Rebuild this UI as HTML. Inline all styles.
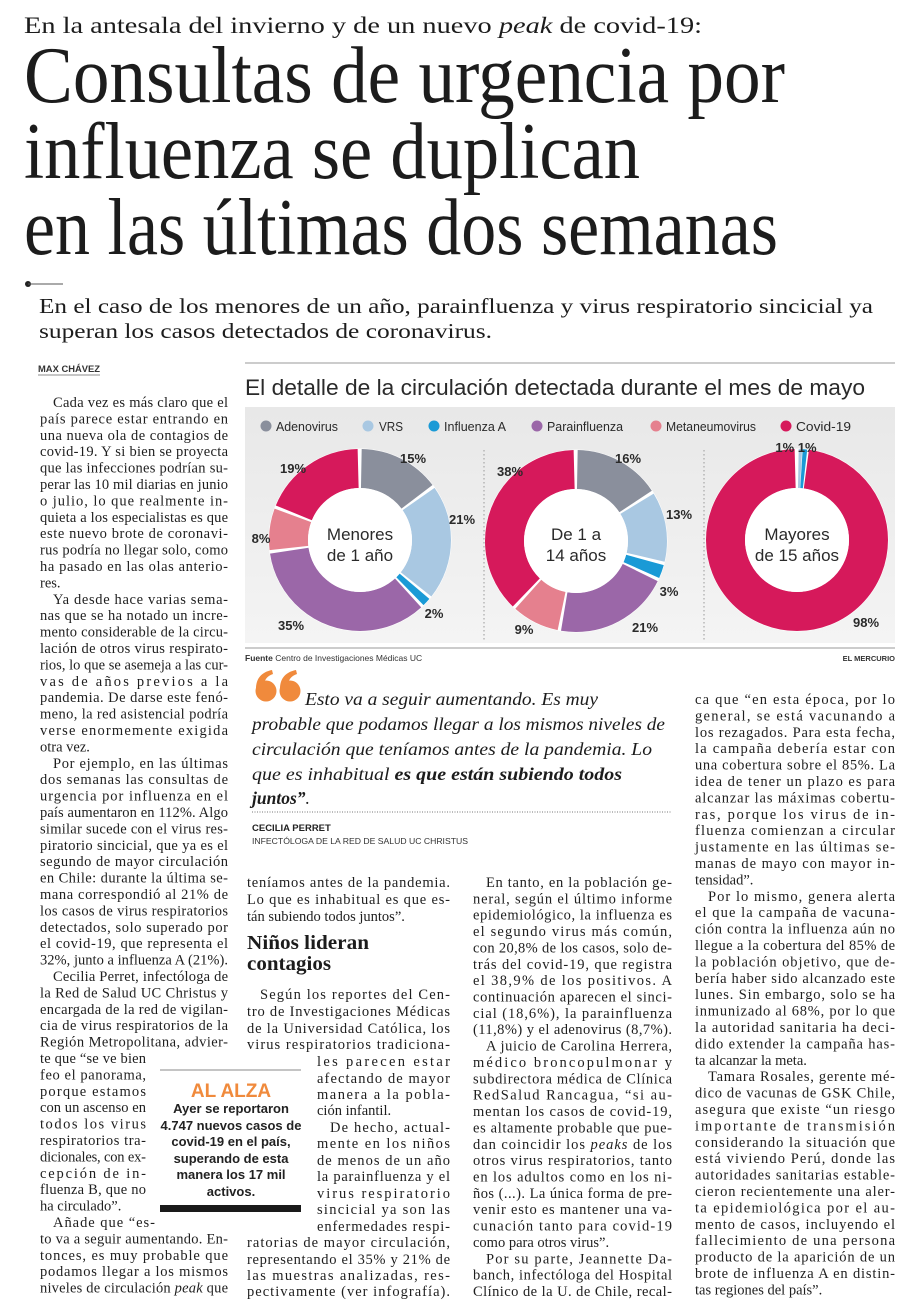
<!DOCTYPE html>
<html><head><meta charset="utf-8">
<style>
html,body{margin:0;padding:0;background:#fff;}
svg{display:block;}
.s{font-family:"Liberation Serif",serif;fill:#1c1c1c;}
.b{font-family:"Liberation Serif",serif;font-size:14.5px;fill:#1e1e1e;}
.sa{font-family:"Liberation Sans Narrow","Liberation Sans",sans-serif;}
</style></head>
<body>
<svg width="917" height="1311" viewBox="0 0 917 1311" xmlns="http://www.w3.org/2000/svg">
<rect width="917" height="1311" fill="#fff"/>

<!-- Header -->
<text class="s" x="24" y="33" font-size="23" textLength="678" lengthAdjust="spacingAndGlyphs">En la antesala del invierno y de un nuevo <tspan font-style="italic">peak</tspan> de covid-19:</text>
<text class="s" x="24" y="102" font-size="80" textLength="761" lengthAdjust="spacingAndGlyphs">Consultas de urgencia por</text>
<text class="s" x="24" y="178" font-size="80" textLength="616" lengthAdjust="spacingAndGlyphs">influenza se duplican</text>
<text class="s" x="24" y="254" font-size="80" textLength="754" lengthAdjust="spacingAndGlyphs">en las últimas dos semanas</text>
<circle cx="28" cy="284" r="3" fill="#222"/>
<line x1="28" y1="284" x2="63" y2="284" stroke="#555" stroke-width="1"/>
<text class="s" x="39" y="313" font-size="21.5" textLength="834" lengthAdjust="spacingAndGlyphs">En el caso de los menores de un año, parainfluenza y virus respiratorio sincicial ya</text>
<text class="s" x="39" y="338" font-size="21.5" textLength="453" lengthAdjust="spacingAndGlyphs">superan los casos detectados de coronavirus.</text>

<text class="sa" x="38" y="372" font-size="9.5" font-weight="bold" fill="#333" textLength="62" lengthAdjust="spacingAndGlyphs">MAX CHÁVEZ</text>
<line x1="38" y1="375" x2="100" y2="375" stroke="#666" stroke-width="0.8"/>

<!-- Chart -->
<line x1="245" y1="363" x2="895" y2="363" stroke="#999" stroke-width="1"/>
<text class="sa" x="245" y="395" font-size="22" fill="#2a2a2a" textLength="620" lengthAdjust="spacingAndGlyphs">El detalle de la circulación detectada durante el mes de mayo</text>
<defs><linearGradient id="bg" x1="0" y1="0" x2="0" y2="1"><stop offset="0" stop-color="#e8e8e8"/><stop offset="1" stop-color="#f4f4f4"/></linearGradient></defs>
<rect x="245" y="407" width="650" height="236" fill="url(#bg)"/>
<g font-family="Liberation Sans Narrow, Liberation Sans, sans-serif" font-size="13" fill="#2a2a2a">
<circle cx="266" cy="426" r="5.5" fill="#8a8f9c"/><text x="276" y="431" textLength="62" lengthAdjust="spacingAndGlyphs">Adenovirus</text>
<circle cx="368" cy="426" r="5.5" fill="#a9c8e2"/><text x="379" y="431" textLength="24" lengthAdjust="spacingAndGlyphs">VRS</text>
<circle cx="434" cy="426" r="5.5" fill="#1a9ad6"/><text x="444" y="431" textLength="62" lengthAdjust="spacingAndGlyphs">Influenza A</text>
<circle cx="537" cy="426" r="5.5" fill="#9b67a8"/><text x="547" y="431" textLength="76" lengthAdjust="spacingAndGlyphs">Parainfluenza</text>
<circle cx="656" cy="426" r="5.5" fill="#e5808e"/><text x="666" y="431" textLength="90" lengthAdjust="spacingAndGlyphs">Metaneumovirus</text>
<circle cx="786" cy="426" r="5.5" fill="#d6195b"/><text x="796" y="431" textLength="55" lengthAdjust="spacingAndGlyphs">Covid-19</text>
</g>
<line x1="484" y1="450" x2="484" y2="640" stroke="#999" stroke-dasharray="1.5 2.5"/>
<line x1="704" y1="450" x2="704" y2="640" stroke="#999" stroke-dasharray="1.5 2.5"/>

<!-- Donut 1 -->
<g transform="rotate(-90 360 540)" fill="none" stroke-width="39">
<circle cx="360" cy="540" r="71.5" stroke="#fff" stroke-width="40"/>
<circle cx="360" cy="540" r="71.5" pathLength="100" stroke="#8a8f9c" stroke-dasharray="14.4 200" stroke-dashoffset="-0.3"/>
<circle cx="360" cy="540" r="71.5" pathLength="100" stroke="#a9c8e2" stroke-dasharray="20.4 200" stroke-dashoffset="-15.3"/>
<circle cx="360" cy="540" r="71.5" pathLength="100" stroke="#1a9ad6" stroke-dasharray="1.5 200" stroke-dashoffset="-36.25"/>
<circle cx="360" cy="540" r="71.5" pathLength="100" stroke="#9b67a8" stroke-dasharray="34.4 200" stroke-dashoffset="-38.3"/>
<circle cx="360" cy="540" r="71.5" pathLength="100" stroke="#e5808e" stroke-dasharray="7.4 200" stroke-dashoffset="-73.3"/>
<circle cx="360" cy="540" r="71.5" pathLength="100" stroke="#d6195b" stroke-dasharray="18.4 200" stroke-dashoffset="-81.3"/>
</g>
<circle cx="360" cy="540" r="52" fill="#fff"/>
<!-- Donut 2 -->
<g transform="rotate(-90 576 541)" fill="none" stroke-width="39">
<circle cx="576" cy="541" r="71.5" stroke="#fff" stroke-width="40"/>
<circle cx="576" cy="541" r="71.5" pathLength="100" stroke="#8a8f9c" stroke-dasharray="15.4 200" stroke-dashoffset="-0.3"/>
<circle cx="576" cy="541" r="71.5" pathLength="100" stroke="#a9c8e2" stroke-dasharray="12.4 200" stroke-dashoffset="-16.3"/>
<circle cx="576" cy="541" r="71.5" pathLength="100" stroke="#1a9ad6" stroke-dasharray="2.4 200" stroke-dashoffset="-29.3"/>
<circle cx="576" cy="541" r="71.5" pathLength="100" stroke="#9b67a8" stroke-dasharray="20.4 200" stroke-dashoffset="-32.3"/>
<circle cx="576" cy="541" r="71.5" pathLength="100" stroke="#e5808e" stroke-dasharray="8.4 200" stroke-dashoffset="-53.3"/>
<circle cx="576" cy="541" r="71.5" pathLength="100" stroke="#d6195b" stroke-dasharray="37.4 200" stroke-dashoffset="-62.3"/>
</g>
<circle cx="576" cy="541" r="52" fill="#fff"/>
<!-- Donut 3 -->
<g transform="rotate(-90 797 540)" fill="none" stroke-width="39">
<circle cx="797" cy="540" r="71.5" stroke="#fff" stroke-width="40"/>
<circle cx="797" cy="540" r="71.5" pathLength="100" stroke="#a9c8e2" stroke-dasharray="0.6 200" stroke-dashoffset="-0.3"/>
<circle cx="797" cy="540" r="71.5" pathLength="100" stroke="#1a9ad6" stroke-dasharray="0.8 200" stroke-dashoffset="-1.0"/>
<circle cx="797" cy="540" r="71.5" pathLength="100" stroke="#d6195b" stroke-dasharray="97.6 200" stroke-dashoffset="-2.1"/>
</g>
<circle cx="797" cy="540" r="52" fill="#fff"/>

<g font-family="Liberation Sans Narrow, Liberation Sans, sans-serif" font-size="13" font-weight="bold" fill="#2a2a2a" text-anchor="middle">
<text x="413" y="463">15%</text><text x="462" y="524">21%</text><text x="434" y="618">2%</text>
<text x="291" y="630">35%</text><text x="261" y="543">8%</text><text x="293" y="473">19%</text>
<text x="628" y="463">16%</text><text x="679" y="519">13%</text><text x="669" y="596">3%</text>
<text x="645" y="632">21%</text><text x="524" y="634">9%</text><text x="510" y="476">38%</text>
<text x="796" y="452">1% 1%</text><text x="866" y="627">98%</text>
</g>
<g font-family="Liberation Sans Narrow, Liberation Sans, sans-serif" font-size="17" fill="#2a2a2a" text-anchor="middle">
<text x="360" y="540">Menores</text><text x="360" y="561">de 1 año</text>
<text x="576" y="540">De 1 a</text><text x="576" y="561">14 años</text>
<text x="797" y="540">Mayores</text><text x="797" y="561">de 15 años</text>
</g>
<line x1="245" y1="648" x2="895" y2="648" stroke="#999" stroke-width="1"/>
<text class="sa" x="245" y="661" font-size="8.5" fill="#333"><tspan font-weight="bold">Fuente</tspan>  Centro de Investigaciones Médicas UC</text>
<text class="sa" x="895" y="661" font-size="7.5" font-weight="bold" fill="#333" text-anchor="end">EL MERCURIO</text>

<!-- Quote mark -->
<g fill="#f08a3c">
<circle cx="266" cy="691" r="10.5"/>
<path d="M256 689 C256 678 262 672 272 670 L273 674 C267 676 264 680 264 686 Z"/>
<circle cx="290" cy="691" r="10.5"/>
<path d="M280 689 C280 678 286 672 296 670 L297 674 C291 676 288 680 288 686 Z"/>
</g>
<g class="s" font-size="17.5" font-style="italic" fill="#222">
<text x="305" y="705" textLength="293" lengthAdjust="spacingAndGlyphs">Esto va a seguir aumentando. Es muy</text>
<text x="252" y="730" textLength="413" lengthAdjust="spacingAndGlyphs">probable que podamos llegar a los mismos niveles de</text>
<text x="252" y="755" textLength="400" lengthAdjust="spacingAndGlyphs">circulación que teníamos antes de la pandemia. Lo</text>
<text x="252" y="780" textLength="370" lengthAdjust="spacingAndGlyphs">que es inhabitual <tspan font-weight="bold">es que están subiendo todos</tspan></text>
<text x="252" y="804" font-weight="bold">juntos”<tspan font-weight="normal">.</tspan></text>
</g>
<line x1="252" y1="812" x2="672" y2="812" stroke="#777" stroke-width="1" stroke-dasharray="1 1.5"/>
<text class="sa" x="252" y="831" font-size="9.5" font-weight="bold" fill="#222">CECILIA PERRET</text>
<text class="sa" x="252" y="844" font-size="8.5" fill="#333" textLength="216" lengthAdjust="spacingAndGlyphs">INFECTÓLOGA DE LA RED DE SALUD UC CHRISTUS</text>

<!-- AL ALZA box -->
<line x1="160" y1="1070" x2="301" y2="1070" stroke="#888" stroke-width="1"/>
<text x="231" y="1097" text-anchor="middle" font-family="Liberation Sans Narrow, Liberation Sans, sans-serif" font-size="19" font-weight="bold" fill="#f08a3c">AL ALZA</text>
<g font-family="Liberation Sans Narrow, Liberation Sans, sans-serif" font-size="13" font-weight="bold" fill="#222" text-anchor="middle">
<text x="231" y="1113">Ayer se reportaron</text>
<text x="231" y="1130">4.747 nuevos casos de</text>
<text x="231" y="1146">covid-19 en el país,</text>
<text x="231" y="1163">superando de esta</text>
<text x="231" y="1179">manera los 17 mil</text>
<text x="231" y="1196">activos.</text>
</g>
<rect x="160" y="1205" width="141" height="7" fill="#1a1a1a"/>

<!-- Column 1 -->
<g class="b" transform="translate(0,5)">
<text x="53" y="402" textLength="175">Cada vez es más claro que el</text>
<text x="40" y="418.4" textLength="188">país parece estar entrando en</text>
<text x="40" y="434.8" textLength="188">una nueva ola de contagios de</text>
<text x="40" y="451.2" textLength="188">covid-19. Y si bien se proyecta</text>
<text x="40" y="467.6" textLength="188">que las infecciones podrían su-</text>
<text x="40" y="484" textLength="188">perar las 10 mil diarias en junio</text>
<text x="40" y="500.4" textLength="188">o julio, lo que realmente in-</text>
<text x="40" y="516.8" textLength="188">quieta a los especialistas es que</text>
<text x="40" y="533.2" textLength="188">este nuevo brote de coronavi-</text>
<text x="40" y="549.6" textLength="188">rus podría no llegar solo, como</text>
<text x="40" y="566" textLength="188">ha pasado en las olas anterio-</text>
<text x="40" y="582.4">res.</text>
<text x="53" y="598.8" textLength="175">Ya desde hace varias sema-</text>
<text x="40" y="615.2" textLength="188">nas que se ha notado un incre-</text>
<text x="40" y="631.6" textLength="188">mento considerable de la circu-</text>
<text x="40" y="648" textLength="188">lación de otros virus respirato-</text>
<text x="40" y="664.4" textLength="188">rios, lo que se asemeja a las cur-</text>
<text x="40" y="680.8" textLength="188">vas de años previos a la</text>
<text x="40" y="697.2" textLength="188">pandemia. De darse este fenó-</text>
<text x="40" y="713.6" textLength="188">meno, la red asistencial podría</text>
<text x="40" y="730" textLength="188">verse enormemente exigida</text>
<text x="40" y="746.4">otra vez.</text>
<text x="53" y="762.8" textLength="175">Por ejemplo, en las últimas</text>
<text x="40" y="779.2" textLength="188">dos semanas las consultas de</text>
<text x="40" y="795.6" textLength="188">urgencia por influenza en el</text>
<text x="40" y="812" textLength="188">país aumentaron en 112%. Algo</text>
<text x="40" y="828.4" textLength="188">similar sucede con el virus res-</text>
<text x="40" y="844.8" textLength="188">piratorio sincicial, que ya es el</text>
<text x="40" y="861.2" textLength="188">segundo de mayor circulación</text>
<text x="40" y="877.6" textLength="188">en Chile: durante la última se-</text>
<text x="40" y="894" textLength="188">mana correspondió al 21% de</text>
<text x="40" y="910.4" textLength="188">los casos de virus respiratorios</text>
<text x="40" y="926.8" textLength="188">detectados, solo superado por</text>
<text x="40" y="943.2" textLength="188">el covid-19, que representa el</text>
<text x="40" y="959.6" textLength="188">32%, junto a influenza A (21%).</text>
<text x="53" y="976" textLength="175">Cecilia Perret, infectóloga de</text>
<text x="40" y="992.4" textLength="188">la Red de Salud UC Christus y</text>
<text x="40" y="1008.8" textLength="188">encargada de la red de vigilan-</text>
<text x="40" y="1025.2" textLength="188">cia de virus respiratorios de la</text>
<text x="40" y="1041.6" textLength="188">Región Metropolitana, advier-</text>
<text x="40" y="1058" textLength="106">te que “se ve bien</text>
<text x="40" y="1074.4" textLength="106">feo el panorama,</text>
<text x="40" y="1090.8" textLength="106">porque estamos</text>
<text x="40" y="1107.2" textLength="106">con un ascenso en</text>
<text x="40" y="1123.6" textLength="106">todos los virus</text>
<text x="40" y="1140" textLength="106">respiratorios tra-</text>
<text x="40" y="1156.4" textLength="106">dicionales, con ex-</text>
<text x="40" y="1172.8" textLength="106">cepción de in-</text>
<text x="40" y="1189.2" textLength="106">fluenza B, que no</text>
<text x="40" y="1205.6">ha circulado”.</text>
<text x="53" y="1222" textLength="102">Añade que “es-</text>
<text x="40" y="1238.4" textLength="188">to va a seguir aumentando. En-</text>
<text x="40" y="1254.8" textLength="188">tonces, es muy probable que</text>
<text x="40" y="1271.2" textLength="188">podamos llegar a los mismos</text>
<text x="40" y="1287.6" textLength="188">niveles de circulación <tspan font-style="italic">peak</tspan> que</text>
</g>

<!-- Column 2 -->
<g class="b" transform="translate(0,5)">
<text x="247" y="882" textLength="203">teníamos antes de la pandemia.</text>
<text x="247" y="899" textLength="203">Lo que es inhabitual es que es-</text>
<text x="247" y="916">tán subiendo todos juntos”.</text>
<text x="260" y="994" textLength="190">Según los reportes del Cen-</text>
<text x="247" y="1011" textLength="203">tro de Investigaciones Médicas</text>
<text x="247" y="1028" textLength="203">de la Universidad Católica, los</text>
<text x="247" y="1044" textLength="203">virus respiratorios tradiciona-</text>
<text x="317" y="1061" textLength="133">les parecen estar</text>
<text x="317" y="1078" textLength="133">afectando de mayor</text>
<text x="317" y="1094" textLength="133">manera a la pobla-</text>
<text x="317" y="1110">ción infantil.</text>
<text x="330" y="1127" textLength="120">De hecho, actual-</text>
<text x="317" y="1143" textLength="133">mente en los niños</text>
<text x="317" y="1160" textLength="133">de menos de un año</text>
<text x="317" y="1176" textLength="133">la parainfluenza y el</text>
<text x="317" y="1193" textLength="133">virus respiratorio</text>
<text x="317" y="1209" textLength="133">sincicial ya son las</text>
<text x="317" y="1226" textLength="133">enfermedades respi-</text>
<text x="247" y="1242" textLength="203">ratorias de mayor circulación,</text>
<text x="247" y="1259" textLength="203">representando el 35% y 21% de</text>
<text x="247" y="1275" textLength="203">las muestras analizadas, res-</text>
<text x="247" y="1291" textLength="203">pectivamente (ver infografía).</text>
</g>
<text class="s" x="247" y="949" font-size="19.5" font-weight="bold" textLength="122" lengthAdjust="spacingAndGlyphs">Niños lideran</text>
<text class="s" x="247" y="970" font-size="19.5" font-weight="bold" textLength="84" lengthAdjust="spacingAndGlyphs">contagios</text>

<!-- Column 3 -->
<g class="b" transform="translate(0,5)">
<text x="486" y="882" textLength="186">En tanto, en la población ge-</text>
<text x="473" y="898.4" textLength="199">neral, según el último informe</text>
<text x="473" y="914.7" textLength="199">epidemiológico, la influenza es</text>
<text x="473" y="931.1" textLength="199">el segundo virus más común,</text>
<text x="473" y="947.4" textLength="199">con 20,8% de los casos, solo de-</text>
<text x="473" y="963.8" textLength="199">trás del covid-19, que registra</text>
<text x="473" y="980.2" textLength="199">el 38,9% de los positivos. A</text>
<text x="473" y="996.5" textLength="199">continuación aparecen el sinci-</text>
<text x="473" y="1012.9" textLength="199">cial (18,6%), la parainfluenza</text>
<text x="473" y="1029.2" textLength="199">(11,8%) y el adenovirus (8,7%).</text>
<text x="486" y="1045.6" textLength="186">A juicio de Carolina Herrera,</text>
<text x="473" y="1062" textLength="199">médico broncopulmonar y</text>
<text x="473" y="1078.3" textLength="199">subdirectora médica de Clínica</text>
<text x="473" y="1094.7" textLength="199">RedSalud Rancagua, “si au-</text>
<text x="473" y="1111" textLength="199">mentan los casos de covid-19,</text>
<text x="473" y="1127.4" textLength="199">es altamente probable que pue-</text>
<text x="473" y="1143.8" textLength="199">dan coincidir los <tspan font-style="italic">peaks</tspan> de los</text>
<text x="473" y="1160.1" textLength="199">otros virus respiratorios, tanto</text>
<text x="473" y="1176.5" textLength="199">en los adultos como en los ni-</text>
<text x="473" y="1192.8" textLength="199">ños (...). La única forma de pre-</text>
<text x="473" y="1209.2" textLength="199">venir esto es mantener una va-</text>
<text x="473" y="1225.6" textLength="199">cunación tanto para covid-19</text>
<text x="473" y="1241.9">como para otros virus”.</text>
<text x="486" y="1258.3" textLength="186">Por su parte, Jeannette Da-</text>
<text x="473" y="1274.6" textLength="199">banch, infectóloga del Hospital</text>
<text x="473" y="1291" textLength="199">Clínico de la U. de Chile, recal-</text>
</g>

<!-- Column 4 -->
<g class="b" transform="translate(0,5)">
<text x="695" y="699" textLength="200">ca que “en esta época, por lo</text>
<text x="695" y="715.4" textLength="200">general, se está vacunando a</text>
<text x="695" y="731.8" textLength="200">los rezagados. Para esta fecha,</text>
<text x="695" y="748.2" textLength="200">la campaña debería estar con</text>
<text x="695" y="764.6" textLength="200">una cobertura sobre el 85%. La</text>
<text x="695" y="781" textLength="200">idea de tener un plazo es para</text>
<text x="695" y="797.4" textLength="200">alcanzar las máximas cobertu-</text>
<text x="695" y="813.8" textLength="200">ras, porque los virus de in-</text>
<text x="695" y="830.2" textLength="200">fluenza comienzan a circular</text>
<text x="695" y="846.6" textLength="200">justamente en las últimas se-</text>
<text x="695" y="863" textLength="200">manas de mayo con mayor in-</text>
<text x="695" y="879.4">tensidad”.</text>
<text x="708" y="895.8" textLength="187">Por lo mismo, genera alerta</text>
<text x="695" y="912.2" textLength="200">el que la campaña de vacuna-</text>
<text x="695" y="928.6" textLength="200">ción contra la influenza aún no</text>
<text x="695" y="945" textLength="200">llegue a la cobertura del 85% de</text>
<text x="695" y="961.4" textLength="200">la población objetivo, que de-</text>
<text x="695" y="977.8" textLength="200">bería haber sido alcanzado este</text>
<text x="695" y="994.2" textLength="200">lunes. Sin embargo, solo se ha</text>
<text x="695" y="1010.6" textLength="200">inmunizado al 68%, por lo que</text>
<text x="695" y="1027" textLength="200">la autoridad sanitaria ha deci-</text>
<text x="695" y="1043.4" textLength="200">dido extender la campaña has-</text>
<text x="695" y="1059.8">ta alcanzar la meta.</text>
<text x="708" y="1076.2" textLength="187">Tamara Rosales, gerente mé-</text>
<text x="695" y="1092.6" textLength="200">dico de vacunas de GSK Chile,</text>
<text x="695" y="1109" textLength="200">asegura que existe “un riesgo</text>
<text x="695" y="1125.4" textLength="200">importante de transmisión</text>
<text x="695" y="1141.8" textLength="200">considerando la situación que</text>
<text x="695" y="1158.2" textLength="200">está viviendo Perú, donde las</text>
<text x="695" y="1174.6" textLength="200">autoridades sanitarias estable-</text>
<text x="695" y="1191" textLength="200">cieron recientemente una aler-</text>
<text x="695" y="1207.4" textLength="200">ta epidemiológica por el au-</text>
<text x="695" y="1223.8" textLength="200">mento de casos, incluyendo el</text>
<text x="695" y="1240.2" textLength="200">fallecimiento de una persona</text>
<text x="695" y="1256.6" textLength="200">producto de la aparición de un</text>
<text x="695" y="1273" textLength="200">brote de influenza A en distin-</text>
<text x="695" y="1289.4">tas regiones del país”.</text>
</g>
</svg>
</body></html>
